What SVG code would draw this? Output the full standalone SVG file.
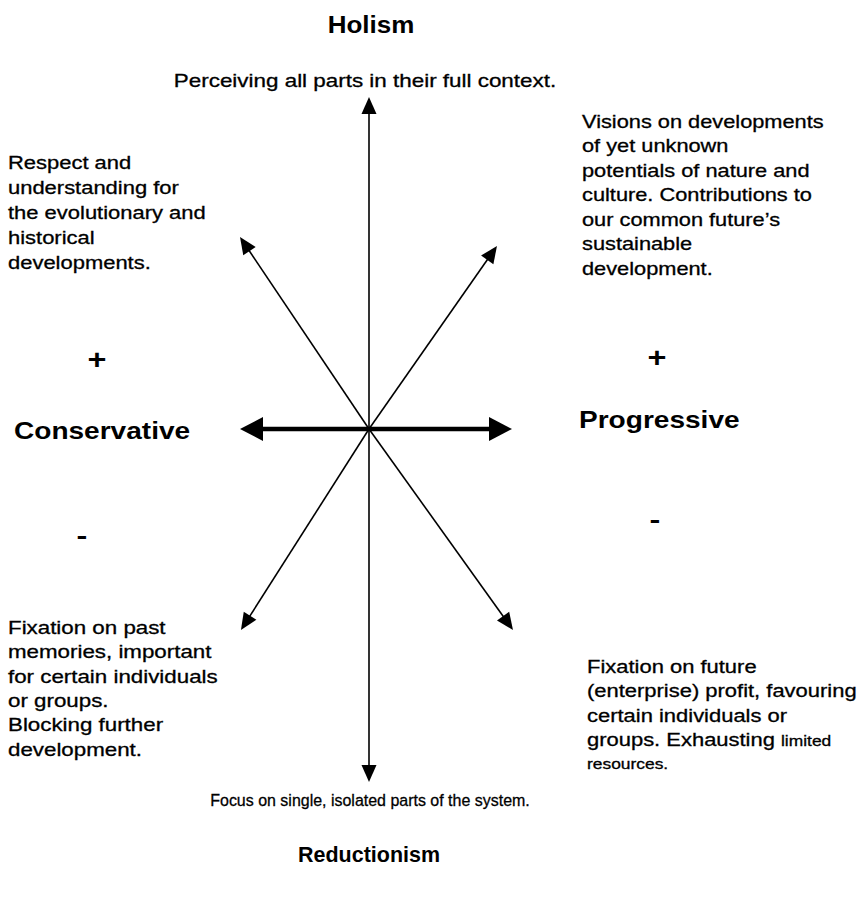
<svg xmlns="http://www.w3.org/2000/svg" width="862" height="924" viewBox="0 0 862 924">
<style>
.t{font-family:"Liberation Sans",Arial,sans-serif;font-size:18.3px;fill:#000;stroke:#000;stroke-width:0.3}
.b{font-family:"Liberation Sans",Arial,sans-serif;font-size:23px;font-weight:bold;fill:#000}
.s{font-size:14.5px}
.thin{stroke:#000;stroke-width:1.6;fill:none}
.thick{stroke:#000;stroke-width:4.5;fill:none}
</style>
<defs>
<marker id="ah" markerUnits="userSpaceOnUse" markerWidth="20" markerHeight="18" viewBox="0 -9 18 18" refX="5" refY="0" orient="auto">
<path d="M0,-7.5 L17,0 L0,7.5 Z" fill="#000"/>
</marker>
<marker id="ahb" markerUnits="userSpaceOnUse" markerWidth="26" markerHeight="26" viewBox="0 -13 24 26" refX="3" refY="0" orient="auto-start-reverse">
<path d="M0,-12 L23,0 L0,12 Z" fill="#000"/>
</marker>
</defs>
<rect width="862" height="924" fill="#fff"/>
<g id="connectors">
<line class="thin" x1="369" y1="429" x2="369" y2="109" marker-end="url(#ah)"/>
<line class="thin" x1="369" y1="429" x2="369" y2="770" marker-end="url(#ah)"/>
<line class="thin" x1="369" y1="429" x2="246.7" y2="247" marker-end="url(#ah)"/>
<line class="thin" x1="369" y1="429" x2="490.1" y2="255.8" marker-end="url(#ah)"/>
<line class="thin" x1="369" y1="429" x2="247.4" y2="619.9" marker-end="url(#ah)"/>
<line class="thin" x1="369" y1="429" x2="506" y2="620.2" marker-end="url(#ah)"/>
<line class="thick" x1="260" y1="429" x2="492" y2="429" marker-start="url(#ahb)" marker-end="url(#ahb)"/>
</g>
<g id="holism" transform="translate(371,33) scale(1.13,1)">
<text class="b" text-anchor="middle">Holism</text>
</g>
<g id="holism-desc" transform="translate(365,87) scale(1.225,1)">
<text class="t" text-anchor="middle">Perceiving all parts in their full context.</text>
</g>
<g id="conservative-plus-desc" transform="translate(8,0) scale(1.2,1)">
<text class="t" x="0" y="169">Respect and</text>
<text class="t" x="0" y="194">understanding for</text>
<text class="t" x="0" y="219">the evolutionary and</text>
<text class="t" x="0" y="244">historical</text>
<text class="t" x="0" y="269">developments.</text>
</g>
<g id="progressive-plus-desc" transform="translate(582,0) scale(1.19,1)">
<text class="t" x="0" y="128">Visions on developments</text>
<text class="t" x="0" y="152.5">of yet unknown</text>
<text class="t" x="0" y="177">potentials of nature and</text>
<text class="t" x="0" y="201.5">culture. Contributions to</text>
<text class="t" x="0" y="226">our common future’s</text>
<text class="t" x="0" y="250.5">sustainable</text>
<text class="t" x="0" y="275">development.</text>
</g>
<g id="plus-left" transform="translate(97,369) scale(1.2,1)">
<text class="b" text-anchor="middle" style="font-size:27px">+</text>
</g>
<g id="plus-right" transform="translate(657,367) scale(1.2,1)">
<text class="b" text-anchor="middle" style="font-size:27px">+</text>
</g>
<g id="conservative" transform="translate(14,439) scale(1.22,1)">
<text class="b">Conservative</text>
</g>
<g id="progressive" transform="translate(579,428) scale(1.22,1)">
<text class="b">Progressive</text>
</g>
<g id="minus-left" transform="translate(82,544) scale(1.3,1)">
<text class="b" text-anchor="middle" style="font-size:25px">-</text>
</g>
<g id="minus-right" transform="translate(655,528) scale(1.3,1)">
<text class="b" text-anchor="middle" style="font-size:25px">-</text>
</g>
<g id="conservative-minus-desc" transform="translate(8,0) scale(1.22,1)">
<text class="t" x="0" y="634">Fixation on past</text>
<text class="t" x="0" y="658">memories, important</text>
<text class="t" x="0" y="683">for certain individuals</text>
<text class="t" x="0" y="707">or groups.</text>
<text class="t" x="0" y="731">Blocking further</text>
<text class="t" x="0" y="756">development.</text>
</g>
<g id="progressive-minus-desc" transform="translate(587,0) scale(1.2,1)">
<text class="t" x="0" y="673">Fixation on future</text>
<text class="t" x="0" y="697">(enterprise) profit, favouring</text>
<text class="t" x="0" y="722">certain individuals or</text>
<text class="t" x="0" y="746">groups. Exhausting <tspan class="s">limited</tspan></text>
<text class="t s" x="0" y="769">resources.</text>
</g>
<g id="reductionism-desc" transform="translate(370,806) scale(0.94,1)">
<text class="t" text-anchor="middle" style="font-size:17px">Focus on single, isolated parts of the system.</text>
</g>
<g id="reductionism" transform="translate(369,862) scale(0.955,1)">
<text class="b" text-anchor="middle" style="font-size:22.5px">Reductionism</text>
</g>
</svg>
